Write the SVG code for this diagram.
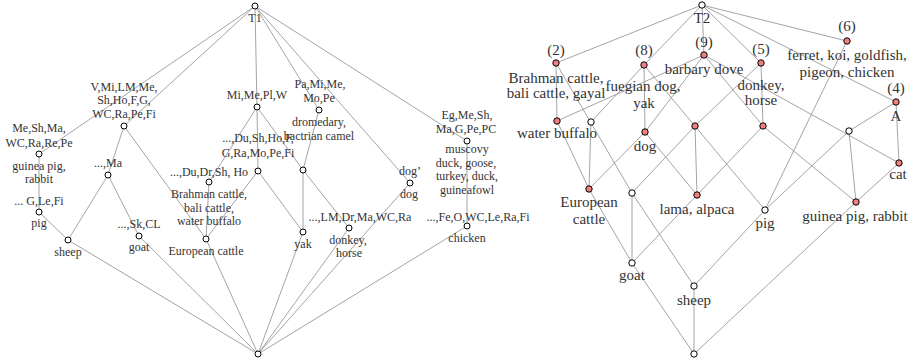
<svg xmlns="http://www.w3.org/2000/svg" width="913" height="362" viewBox="0 0 913 362">
<style>
  .e line { stroke: #9a9a9a; stroke-width: 0.9; }
  .n { fill: #ffffff; stroke: #000000; stroke-width: 1; }
  .r { fill: #f08080; stroke: #000000; stroke-width: 1; }
  text { font-family: "Liberation Serif", "DejaVu Serif", serif; fill: #333333; text-anchor: middle; }
  .s { font-size: 12px; }
  .b { font-size: 15px; }
</style>
<rect width="913" height="362" fill="#ffffff"/>

<!-- lattice T1: connectors -->
<g id="edges-t1" class="e">
  <line x1="255" y1="6" x2="124" y2="126"/>
  <line x1="255" y1="6" x2="39" y2="154"/>
  <line x1="255" y1="6" x2="257" y2="107"/>
  <line x1="255" y1="6" x2="319" y2="110"/>
  <line x1="255" y1="6" x2="410" y2="183"/>
  <line x1="255" y1="6" x2="467" y2="141"/>
  <line x1="124" y1="126" x2="108" y2="175"/>
  <line x1="124" y1="126" x2="206" y2="239"/>
  <line x1="39" y1="154" x2="39" y2="212"/>
  <line x1="39" y1="212" x2="68" y2="240"/>
  <line x1="108" y1="175" x2="68" y2="240"/>
  <line x1="108" y1="175" x2="139" y2="236"/>
  <line x1="68" y1="240" x2="258" y2="354"/>
  <line x1="139" y1="236" x2="258" y2="354"/>
  <line x1="206" y1="239" x2="258" y2="354"/>
  <line x1="209" y1="182" x2="206" y2="239"/>
  <line x1="258" y1="171" x2="206" y2="239"/>
  <line x1="257" y1="107" x2="209" y2="182"/>
  <line x1="257" y1="107" x2="258" y2="171"/>
  <line x1="257" y1="107" x2="303" y2="170"/>
  <line x1="319" y1="110" x2="303" y2="170"/>
  <line x1="303" y1="170" x2="303" y2="232"/>
  <line x1="303" y1="170" x2="349" y2="228"/>
  <line x1="258" y1="171" x2="303" y2="232"/>
  <line x1="303" y1="232" x2="258" y2="354"/>
  <line x1="349" y1="228" x2="258" y2="354"/>
  <line x1="410" y1="183" x2="258" y2="354"/>
  <line x1="467" y1="226" x2="258" y2="354"/>
  <line x1="467" y1="141" x2="467" y2="226"/>
</g>

<!-- lattice T1: nodes -->
<g id="t1-top"><circle class="n" cx="255" cy="6" r="3"/><text class="s" x="255" y="22">T1</text></g>
<g id="t1-vmi"><circle class="n" cx="124" cy="126" r="3"/>
  <text class="s" x="124" y="91">V,Mi,LM,Me,</text><text class="s" x="124" y="104">Sh,Ho,F,G,</text><text class="s" x="124" y="118">WC,Ra,Pe,Fi</text></g>
<g id="t1-guinea"><circle class="n" cx="39" cy="154" r="3"/>
  <text class="s" x="39" y="132">Me,Sh,Ma,</text><text class="s" x="39" y="147">WC,Ra,Re,Pe</text>
  <text class="s" x="39" y="170">guinea pig,</text><text class="s" x="39" y="183">rabbit</text></g>
<g id="t1-pig"><circle class="n" cx="39" cy="212" r="3"/>
  <text class="s" x="39" y="205">... G,Le,Fi</text><text class="s" x="39" y="227">pig</text></g>
<g id="t1-ma"><circle class="n" cx="108" cy="175" r="3"/><text class="s" x="108" y="167">...,Ma</text></g>
<g id="t1-sheep"><circle class="n" cx="68" cy="240" r="3"/><text class="s" x="68" y="256">sheep</text></g>
<g id="t1-goat"><circle class="n" cx="139" cy="236" r="3"/>
  <text class="s" x="139" y="228">...,Sk,CL</text><text class="s" x="139" y="251">goat</text></g>
<g id="t1-eurocattle"><circle class="n" cx="206" cy="239" r="3"/><text class="s" x="206" y="255">European cattle</text></g>
<g id="t1-brahman"><circle class="n" cx="209" cy="182" r="3"/>
  <text class="s" x="209" y="176">...,Du,Dr,Sh, Ho</text>
  <text class="s" x="209" y="198">Brahman cattle,</text><text class="s" x="209" y="212">bali cattle,</text><text class="s" x="209" y="225">water buffalo</text></g>
<g id="t1-du"><circle class="n" cx="258" cy="171" r="3"/>
  <text class="s" x="258" y="142">...,Du,Sh,Ho,F,</text><text class="s" x="258" y="157">G,Ra,Mo,Pe,Fi</text></g>
<g id="t1-mi"><circle class="n" cx="257" cy="107" r="3"/><text class="s" x="257" y="99">Mi,Me,Pl,W</text></g>
<g id="t1-camel"><circle class="n" cx="319" cy="110" r="3"/>
  <text class="s" x="320" y="88">Pa,Mi,Me,</text><text class="s" x="319" y="102">Mo,Pe</text>
  <text class="s" x="319" y="126">dromedary,</text><text class="s" x="319" y="140">bactrian camel</text></g>
<g id="t1-mid"><circle class="n" cx="303" cy="170" r="3"/></g>
<g id="t1-yak"><circle class="n" cx="303" cy="232" r="3"/><text class="s" x="303" y="248">yak</text></g>
<g id="t1-donkey"><circle class="n" cx="349" cy="228" r="3"/>
  <text class="s" x="360" y="221">...,LM,Dr,Ma,WC,Ra</text>
  <text class="s" x="348" y="244">donkey,</text><text class="s" x="349" y="257">horse</text></g>
<g id="t1-dog"><circle class="n" cx="410" cy="183" r="3"/>
  <text class="s" x="410" y="175">dog’</text><text class="s" x="409" y="198">dog</text></g>
<g id="t1-fowl"><circle class="n" cx="467" cy="141" r="3"/>
  <text class="s" x="467" y="119">Eg,Me,Sh,</text><text class="s" x="466" y="133">Ma,G,Pe,PC</text>
  <text class="s" x="467" y="153">muscovy</text><text class="s" x="466" y="167">duck, goose,</text>
  <text class="s" x="467" y="180">turkey, duck,</text><text class="s" x="467" y="194">guineafowl</text></g>
<g id="t1-chicken"><circle class="n" cx="467" cy="226" r="3"/>
  <text class="s" x="478" y="221">...,Fe,O,WC,Le,Ra,Fi</text><text class="s" x="467" y="242">chicken</text></g>
<g id="t1-bottom"><circle class="n" cx="258" cy="354" r="3"/></g>

<!-- lattice T2: connectors -->
<g id="edges-t2" class="e">
  <line x1="702" y1="5" x2="556" y2="63"/>
  <line x1="702" y1="5" x2="644" y2="65"/>
  <line x1="702" y1="5" x2="704" y2="55"/>
  <line x1="702" y1="5" x2="761" y2="63"/>
  <line x1="702" y1="5" x2="847" y2="41"/>
  <line x1="702" y1="5" x2="896" y2="102"/>
  <line x1="556" y1="63" x2="557" y2="121"/>
  <line x1="556" y1="63" x2="632" y2="193"/>
  <line x1="557" y1="121" x2="704" y2="55"/>
  <line x1="557" y1="121" x2="589" y2="189"/>
  <line x1="644" y1="65" x2="645" y2="132"/>
  <line x1="644" y1="65" x2="591" y2="122"/>
  <line x1="644" y1="65" x2="765" y2="210"/>
  <line x1="704" y1="55" x2="645" y2="132"/>
  <line x1="704" y1="55" x2="763" y2="126"/>
  <line x1="704" y1="55" x2="899" y2="163"/>
  <line x1="761" y1="63" x2="695" y2="126"/>
  <line x1="761" y1="63" x2="763" y2="126"/>
  <line x1="763" y1="126" x2="697" y2="195"/>
  <line x1="763" y1="126" x2="856" y2="202"/>
  <line x1="847" y1="41" x2="765" y2="210"/>
  <line x1="896" y1="102" x2="849" y2="131"/>
  <line x1="896" y1="102" x2="899" y2="163"/>
  <line x1="849" y1="131" x2="765" y2="210"/>
  <line x1="849" y1="131" x2="856" y2="202"/>
  <line x1="899" y1="163" x2="856" y2="202"/>
  <line x1="645" y1="132" x2="589" y2="189"/>
  <line x1="645" y1="132" x2="697" y2="195"/>
  <line x1="695" y1="126" x2="697" y2="195"/>
  <line x1="695" y1="126" x2="632" y2="193"/>
  <line x1="591" y1="122" x2="589" y2="189"/>
  <line x1="632" y1="193" x2="632" y2="263"/>
  <line x1="632" y1="193" x2="694" y2="286"/>
  <line x1="589" y1="189" x2="632" y2="263"/>
  <line x1="697" y1="195" x2="632" y2="263"/>
  <line x1="632" y1="263" x2="694" y2="354"/>
  <line x1="765" y1="210" x2="694" y2="286"/>
  <line x1="694" y1="286" x2="694" y2="354"/>
  <line x1="856" y1="202" x2="694" y2="354"/>
</g>

<!-- lattice T2: nodes -->
<g id="t2-top"><circle class="n" cx="702" cy="5" r="3.2"/><text class="b" x="702" y="23">T2</text></g>
<g id="t2-a2"><circle class="r" cx="556" cy="63" r="3.2"/>
  <text class="b" x="556" y="55">(2)</text>
  <text class="b" x="556" y="83">Brahman cattle,</text><text class="b" x="556" y="98">bali cattle, gayal</text></g>
<g id="t2-buffalo"><circle class="r" cx="557" cy="121" r="3.2"/><text class="b" x="557" y="138">water buffalo</text></g>
<g id="t2-w1"><circle class="n" cx="591" cy="122" r="3.2"/></g>
<g id="t2-a8"><circle class="r" cx="644" cy="65" r="3.2"/>
  <text class="b" x="644" y="55">(8)</text>
  <text class="b" x="643" y="91">fuegian dog,</text><text class="b" x="644" y="108">yak</text></g>
<g id="t2-dog"><circle class="r" cx="645" cy="132" r="3.2"/><text class="b" x="645" y="151">dog</text></g>
<g id="t2-a9"><circle class="r" cx="704" cy="55" r="3.2"/>
  <text class="b" x="704" y="47">(9)</text><text class="b" x="704" y="74">barbary dove</text></g>
<g id="t2-r1"><circle class="r" cx="695" cy="126" r="3.2"/></g>
<g id="t2-a5"><circle class="r" cx="761" cy="63" r="3.2"/>
  <text class="b" x="761" y="54">(5)</text>
  <text class="b" x="761" y="90">donkey,</text><text class="b" x="761" y="105">horse</text></g>
<g id="t2-r2"><circle class="r" cx="763" cy="126" r="3.2"/></g>
<g id="t2-a6"><circle class="r" cx="847" cy="41" r="3.2"/>
  <text class="b" x="847" y="31">(6)</text>
  <text class="b" x="847" y="60">ferret, koi, goldfish,</text><text class="b" x="847" y="77">pigeon, chicken</text></g>
<g id="t2-a4"><circle class="r" cx="896" cy="102" r="3.2"/>
  <text class="b" x="896" y="93">(4)</text><text class="b" x="896" y="121">A</text></g>
<g id="t2-w3"><circle class="n" cx="849" cy="131" r="3.2"/></g>
<g id="t2-cat"><circle class="r" cx="899" cy="163" r="3.2"/><text class="b" x="898" y="179">cat</text></g>
<g id="t2-guinea"><circle class="r" cx="856" cy="202" r="3.2"/><text class="b" x="855" y="221">guinea pig, rabbit</text></g>
<g id="t2-pig"><circle class="n" cx="765" cy="210" r="3.2"/><text class="b" x="765" y="228">pig</text></g>
<g id="t2-lama"><circle class="r" cx="697" cy="195" r="3.2"/><text class="b" x="697" y="214">lama, alpaca</text></g>
<g id="t2-eurocattle"><circle class="r" cx="589" cy="189" r="3.2"/>
  <text class="b" x="589" y="207">European</text><text class="b" x="589" y="224">cattle</text></g>
<g id="t2-w2"><circle class="n" cx="632" cy="193" r="3.2"/></g>
<g id="t2-goat"><circle class="n" cx="632" cy="263" r="3.2"/><text class="b" x="632" y="280">goat</text></g>
<g id="t2-sheep"><circle class="n" cx="694" cy="286" r="3.2"/><text class="b" x="694" y="305">sheep</text></g>
<g id="t2-bottom"><circle class="n" cx="694" cy="354" r="3.2"/></g>
</svg>
